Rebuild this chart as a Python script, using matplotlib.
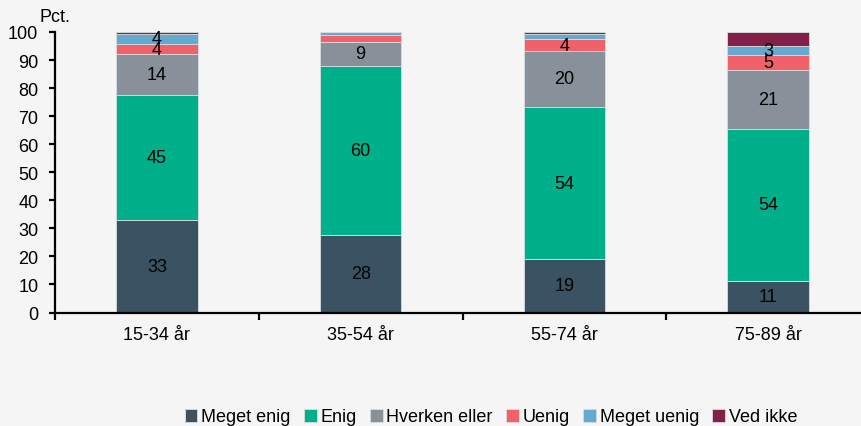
import matplotlib.pyplot as plt
import numpy as np

plt.rcParams['font.family'] = ['Liberation Sans', 'DejaVu Sans']

# Aldersgrupper og svarfordeling (pct.)
grupper = ["15-34 år", "35-54 år", "55-74 år", "75-89 år"]
meget_enig = [33.1, 27.8, 18.9, 11.4]
enig = [44.6, 59.9, 54.4, 54.1]
hverken_eller = [14.3, 8.9, 19.9, 21.0]
uenig = [3.8, 2.2, 4.3, 5.4]
meget_uenig = [3.6, 1.2, 1.7, 3.1]
ved_ikke = [0.6, 0.0, 0.8, 5.0]

serier = [
    ("Meget enig", meget_enig, "#3b5263"),
    ("Enig", enig, "#00b08b"),
    ("Hverken eller", hverken_eller, "#88919a"),
    ("Uenig", uenig, "#f0616a"),
    ("Meget uenig", meget_uenig, "#63a9d0"),
    ("Ved ikke", ved_ikke, "#82204a"),
]

fs = 13
bg = "#f5f5f5"
fig = plt.figure(figsize=(8.62, 4.27), dpi=100, facecolor=bg)
ax = fig.add_axes([0.0638, 0.2658, 0.9455, 0.657], facecolor=bg)

x = np.arange(len(grupper))
bund = np.zeros(len(grupper))
for navn, vals, farve in serier:
    vals = np.array(vals)
    ax.bar(x, vals, bottom=bund, width=0.4, color=farve, label=navn,
           edgecolor="#d8dde2", linewidth=0.6)
    if navn != "Ved ikke":
        for xi, b, v in zip(x, bund, vals):
            if v >= 2.5:
                ax.text(xi, b + v / 2, f"{v:.0f}", ha="center", va="center",
                        fontsize=fs, color="black")
    bund += vals

ax.set_xlim(-0.5, 3.5)
ax.set_ylim(0, 100)
ax.set_yticks(np.arange(0, 101, 10))
ax.set_xticks(x)
ax.set_xticklabels(grupper)
ax.set_xticks(np.arange(-0.5, 3.6, 1), minor=True)

for s in ["top", "right"]:
    ax.spines[s].set_visible(False)
for s in ["left", "bottom"]:
    ax.spines[s].set_linewidth(1.6)
    ax.spines[s].set_color("black")

ax.tick_params(axis="y", length=4, width=1.6, pad=8, labelsize=fs)
ax.tick_params(axis="x", which="major", length=0, pad=10, labelsize=fs)
ax.tick_params(axis="x", which="minor", length=5, width=1.6)

fig.text(40 / 862, 1 - 18 / 427, "Pct.", fontsize=fs, ha="left", va="center")

fig.legend(loc="center", bbox_to_anchor=(491 / 862, 1 - 418 / 427), ncol=6,
           frameon=False, fontsize=fs, handlelength=0.7, handleheight=0.7,
           handletextpad=0.2, columnspacing=0.75, borderaxespad=0)

fig.savefig("out.png", dpi=100, facecolor=bg)
